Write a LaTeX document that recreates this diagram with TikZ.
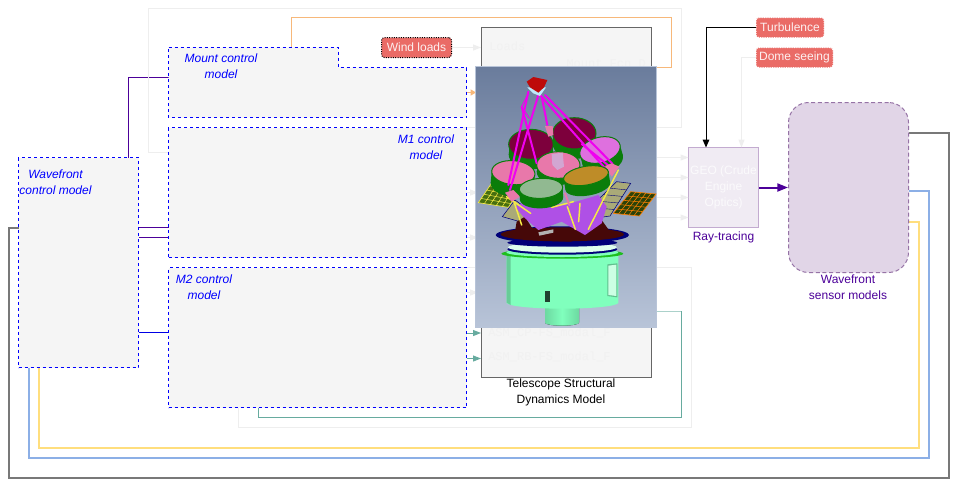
\documentclass[tikz,border=0pt]{standalone}
\usepackage{fontspec}
\setmainfont{Liberation Sans}
\newfontfamily\ghostmono{Liberation Mono}
\usetikzlibrary{arrows.meta, positioning, calc, shapes.geometric}
\definecolor{ctrlblue}{RGB}{0, 0, 255}
\definecolor{ctrlfill}{RGB}{245, 245, 245}
\definecolor{wfspurple}{RGB}{76, 0, 153}
\definecolor{wfsfill}{RGB}{225, 213, 231}
\definecolor{wfsdraw}{RGB}{150, 115, 166}
\definecolor{rayfill}{RGB}{240, 235, 243}
\definecolor{raydraw}{RGB}{195, 171, 208}
\definecolor{loadred}{RGB}{234, 107, 102}
\definecolor{ghost}{RGB}{238, 238, 238}
\definecolor{ghostink}{RGB}{241, 241, 241}
\definecolor{mountorange}{RGB}{247, 184, 122}
\definecolor{asmteal}{RGB}{103, 171, 159}
\definecolor{loopgray}{RGB}{120, 120, 120}
\definecolor{loopblue}{RGB}{140, 175, 230}
\definecolor{loopyellow}{RGB}{255, 222, 125}
\definecolor{skytop}{RGB}{106, 124, 156}
\definecolor{skybot}{RGB}{184, 196, 216}
\definecolor{mint}{RGB}{128, 255, 189}
\definecolor{segmaroon}{RGB}{125, 0, 60}
\definecolor{seggreen}{RGB}{10, 125, 10}
\definecolor{segpink}{RGB}{232, 120, 170}
\definecolor{seglilac}{RGB}{222, 112, 222}
\definecolor{seggold}{RGB}{190, 140, 40}
\definecolor{segsage}{RGB}{145, 185, 145}
\definecolor{trussmag}{RGB}{240, 0, 240}
\definecolor{strutyellow}{RGB}{245, 235, 70}
\definecolor{deckpurple}{RGB}{175, 80, 230}
\definecolor{deckred}{RGB}{70, 8, 8}
\definecolor{ringnavy}{RGB}{0, 0, 120}
\definecolor{ringgreen}{RGB}{30, 190, 30}
\definecolor{panelgreen}{RGB}{70, 110, 15}
\definecolor{paneltan}{RGB}{170, 170, 120}
\definecolor{capred}{RGB}{190, 10, 10}
\tikzset{
    ctrlbox/.style={
        rectangle, draw=ctrlblue, fill=ctrlfill, dash pattern=on 2.25pt off 2.25pt,
        line width=0.75pt, inner sep=0pt
    },
    ctrllabel/.style={font=\itshape\fontsize{9}{12}\selectfont, text=ctrlblue, align=center},
    loadbox/.style={
        rectangle, rounded corners=2.2pt, fill=loadred, draw=#1, densely dotted, line width=0.75pt,
        text=white!90!loadred, font=\fontsize{9}{12}\selectfont, minimum height=15pt, inner sep=0pt
    },
    caption/.style={font=\fontsize{9}{12}\selectfont, align=center},
    purplecaption/.style={caption, text=wfspurple},
    ghosttext/.style={font=\ghostmono\fontsize{9}{12}\selectfont, text=ghostink, inner sep=0pt},
    frameline/.style={draw=ghost, line width=0.75pt},
    ghostarrow/.style={-{Triangle[length=6pt,width=4.5pt]}, draw=ghost, line width=0.75pt},
    wire/.style={line width=0.75pt},
    loopline/.style={line width=1.5pt},
    tealarrow/.style={-{Triangle[length=6pt,width=4.5pt]}, asmteal, line width=0.75pt},
    truss/.style={draw=trussmag, line width=1.5pt, line cap=round},
    strut/.style={draw=strutyellow, line width=1.1pt, line cap=round},
}
\begin{document}
\begin{tikzpicture}[x=0.75pt,y=-0.75pt]
    \useasboundingbox (0,0) rectangle (957,487);
    \fill[white] (0,0) rectangle (957,487);

    % ports
    \coordinate (waveT) at (128.5,157.5);
    \coordinate (waveA) at (138.5,227.5);
    \coordinate (waveB) at (138.5,237.5);
    \coordinate (waveC) at (138.5,332.5);
    \coordinate (waveG) at (18.5,227.5);
    \coordinate (waveU) at (28.5,367.5);
    \coordinate (waveY) at (38.5,367.5);
    \coordinate (mountL) at (168.5,77.5);
    \coordinate (mountT) at (291.5,47.5);
    \coordinate (mountR) at (467,92.5);
    \coordinate (m1A) at (168.5,227.5);
    \coordinate (m1B) at (168.5,237.5);
    \coordinate (m2L) at (168.5,332.5);
    \coordinate (m2B) at (258.5,407.5);
    \coordinate (wfsG) at (908.5,132.5);
    \coordinate (wfsU) at (908.5,190.5);
    \coordinate (wfsY) at (908.5,221.5);

    % long feedback lines
    \draw[loopline, loopgray] (wfsG) -| (948.5,477.5) -| (8.5,227.5) -- (waveG);
    \draw[loopline, loopblue] (wfsU) -| (928.5,457.5) -| (waveU);
    \draw[loopline, loopyellow] (wfsY) -| (918.5,447.5) -| (waveY);
    \draw[wire, wfspurple] (waveT) |- (mountL);
    \draw[wire, wfspurple] (waveA) -- (m1A);
    \draw[wire, wfspurple] (waveB) -- (m1B);
    \draw[wire, ctrlblue!90!black] (waveC) -- (m2L);

    % frames
    \draw[frameline] (148.5,152.5) -- (148.5,8.5) -- (681.5,8.5) -- (681.5,127.5) -- (460,127.5);
    \draw[frameline] (168.5,152.5) -- (148.5,152.5);
    \draw[frameline] (238.5,405) -- (238.5,427.5) -- (691.5,427.5) -- (691.5,267.5) -- (460,267.5);

    % structural model
    \node[draw=black!60, fill=ctrlfill, line width=0.75pt, minimum width=127.5pt, minimum height=262.5pt, inner sep=0pt] (tsdm) at (566,202.5) {};
    \node[ghosttext, anchor=west] (loads) at (489,46) {Loads};
    \node[ghosttext, anchor=east] (mountfcn) at (646,64) {Mount\_Fcn\_D};
    \node[ghosttext, anchor=west] (asmcp) at (488,333) {ASM\_CP-FS\_modal\_F};
    \node[ghosttext, anchor=west] (asmrb) at (488,357) {ASM\_RB-FS\_modal\_F};
    \node[caption] (tsdmlabel) at (561,392) {Telescope Structural\\Dynamics Model};
    \draw[mountorange, line width=0.75pt] (mountT) |- (671.5,17.5) |- (650,67.5);

    % control boxes
    \draw[ctrlbox] (168.5,47.5) -- (338.5,47.5) -- (338.5,67.5) -- (466.5,67.5) -- (466.5,117.5) -- (168.5,117.5) -- cycle;
    \node[ctrllabel] (mountlabel) at (221,66) {Mount control\\model};
    \node[ctrlbox, minimum width=223.5pt, minimum height=97.5pt] (m1) at (317.5,192.5) {};
    \node[ctrllabel] (m1label) at (426,147) {M1 control\\model};
    \node[ctrlbox, minimum width=223.5pt, minimum height=105pt] (m2) at (317.5,337.5) {};
    \node[ctrllabel] (m2label) at (204,287) {M2 control\\model};
    \node[ctrlbox, minimum width=90pt, minimum height=157.5pt] (wave) at (78.5,262.5) {};
    \node[ctrllabel] (wavelabel) at (55.5,182) {Wavefront\\control model};

    % arrows into the structural model
    \node[loadbox=black, minimum width=52.5pt] (wind) at (416.5,47.5) {Wind loads};
    \draw[ghostarrow] (wind) -- (481,47.5);
    \draw[-{Triangle[length=4pt,width=4.5pt]}, mountorange, line width=0.75pt] (mountR) -- (476,92.5);
    \foreach \ypos in {192.5,237.5,292.5}
        \draw[ghostarrow] (467,\ypos) -- (478,\ypos);
    \draw[tealarrow] (467,333) -- (481,333);
    \draw[tealarrow] (467,358.5) -- (481,358.5);

    % telescope picture
    \begin{scope}[shift={(470,0)},x=0.25pt,y=-0.25pt]
        \fill[top color=skytop, bottom color=skybot] (15,198) rectangle (560,982);
        \draw[skybot, line width=0.5pt] (15,198) rectangle (560,982);
        % solar panels
        \fill[panelgreen, draw=strutyellow, line width=0.5pt] (25,608) -- (68,545) -- (150,565) -- (115,622) -- cycle;
        \foreach \t in {0.2,0.4,0.6,0.8} {
            \draw[strutyellow, line width=0.4pt] ($(25,608)!\t!(68,545)$) -- ($(115,622)!\t!(150,565)$);
            \draw[strutyellow, line width=0.4pt] ($(25,608)!\t!(115,622)$) -- ($(68,545)!\t!(150,565)$);
        }
        \fill[panelgreen!60!black, draw=orange, line width=0.5pt] (430,640) -- (482,575) -- (558,582) -- (508,648) -- cycle;
        \foreach \t in {0.2,0.4,0.6,0.8} {
            \draw[orange, line width=0.4pt] ($(430,640)!\t!(482,575)$) -- ($(508,648)!\t!(558,582)$);
            \draw[orange, line width=0.4pt] ($(430,640)!\t!(508,648)$) -- ($(482,575)!\t!(558,582)$);
        }
        \fill[paneltan, draw=ringnavy, line width=0.4pt] (97,650) -- (135,600) -- (190,640) -- (150,665) -- cycle;
        \fill[paneltan, draw=ringnavy, line width=0.4pt] (340,642) -- (440,545) -- (482,550) -- (420,648) -- (370,655) -- cycle;
        \foreach \t in {0.2,0.4,0.6,0.8}
            \draw[ringnavy, line width=0.3pt] ($(340,642)!\t!(440,545)$) -- ($(420,648)!\t!(482,550)$);
        % cylinder
        \fill[left color=mint!85!black, right color=mint!85!black, middle color=mint] (225,900) -- (327,900) -- (327,968) arc[start angle=0, end angle=180, x radius=51, y radius=9] -- cycle;
        \fill[mint] (110,760) -- (445,760) -- (445,908) arc[start angle=0, end angle=180, x radius=167.5, y radius=18] -- cycle;
        \fill[mint!80!black] (110,760) -- (122,760) -- (122,915) -- (110,908) -- cycle;
        \fill[mint!75!black] (412,793) -- (442,790) -- (442,892) -- (412,888) -- cycle;
        \fill[mint!40!white] (415,797) -- (439,794) -- (439,888) -- (415,885) -- cycle;
        \fill[mint!25!black] (225,872) rectangle (241,905);
        % rings
        \fill[ringgreen] (277,761) ellipse [x radius=183, y radius=15];
        \fill[mint] (277,757) ellipse [x radius=168, y radius=14];
        \fill[ringnavy] (277,748) ellipse [x radius=165, y radius=16];
        \fill[mint!25!white] (277,742) ellipse [x radius=163, y radius=16];
        \fill[ringnavy] (277,728) ellipse [x radius=165, y radius=12];
        \fill[ringnavy] (277,705) ellipse [x radius=200, y radius=26];
        \fill[deckred] (277,703) ellipse [x radius=185, y radius=21];
        % deck
        \fill[deckred] (135,695) -- (140,665) -- (165,650) -- (190,690) -- (300,695) -- (345,700) -- (395,660) -- (420,695) -- (300,725) -- (170,720) -- cycle;
        \fill[deckpurple] (135,620) -- (175,600) -- (285,615) -- (385,585) -- (410,620) -- (395,670) -- (345,705) -- (310,685) -- (275,665) -- (205,690) -- (160,650) -- cycle;
        \fill[gray!60!white] (205,697) -- (250,688) -- (250,698) -- (208,707) -- cycle;
        \draw[strut] (132,605) -- (155,675);
        \draw[strut] (110,590) -- (182,640);
        \draw[strut] (292,620) -- (316,688);
        \draw[strut] (245,622) -- (310,605);
        \draw[strut] (445,510) -- (355,688);
        \draw[strut] (330,610) -- (326,665);
        % segments
        \foreach \cx/\cy/\rx/\ry/\tilt/\segcol/\depth in {183/433/67/45/0/segmaroon/30, 313/400/65/47/0/segmaroon/30, 390/450/62/38/15/seglilac/32, 130/518/65/36/-5/segpink/36, 265/495/65/40/0/segpink/20} {
            \begin{scope}[rotate around={\tilt:(\cx,\cy)}]
                \fill[seggreen] (\cx-\rx,\cy) rectangle (\cx+\rx,\cy+\depth);
                \fill[seggreen] (\cx,\cy+\depth) ellipse [x radius=\rx, y radius=\ry];
                \fill[\segcol, draw=seggreen, line width=0.75pt] (\cx,\cy) ellipse [x radius=\rx, y radius=\ry];
            \end{scope}
        }
        \fill[violet!35!white] (245,462) -- (278,458) -- (282,500) -- (262,510) -- (247,495) -- cycle;
        \fill[segpink] (225,378) -- (248,378) -- (250,405) -- (235,410) -- cycle;
        % trusses
        \draw[truss] (205,285) -- (120,570);
        \draw[truss] (175,275) -- (115,555);
        \draw[truss] (155,320) -- (200,490);
        \draw[truss] (225,285) -- (428,492);
        \draw[truss] (210,285) -- (410,510);
        \draw[truss] (335,432) -- (420,500);
        \draw[truss] (215,290) -- (232,375);
        \draw[truss, line width=0.75pt] (175,280) -- (155,320) -- (178,355);
        \fill[segpink] (105,578) -- (130,570) -- (150,590) -- (125,605) -- cycle;
        \fill[segpink] (405,498) -- (425,490) -- (448,500) -- (425,530) -- cycle;
        % front segments
        \foreach \cx/\cy/\rx/\ry/\tilt/\segcol/\depth in {213/565/65/30/3/segsage/30, 348/527/68/28/10/seggold/32} {
            \begin{scope}[rotate around={\tilt:(\cx,\cy)}]
                \fill[seggreen] (\cx-\rx,\cy) rectangle (\cx+\rx,\cy+\depth);
                \fill[seggreen] (\cx,\cy+\depth) ellipse [x radius=\rx, y radius=\ry];
                \fill[\segcol, draw=seggreen, line width=0.75pt] (\cx,\cy) ellipse [x radius=\rx, y radius=\ry];
            \end{scope}
        }
        \draw[truss, segpink] (285,580) -- (298,615);
        % top end
        \fill[cyan!25!white] (172,262) -- (228,262) -- (210,288) -- (190,280) -- cycle;
        \fill[capred] (170,245) -- (190,231) -- (232,240) -- (222,262) -- (205,278) -- (180,262) -- cycle;
    \end{scope}
    \draw[asmteal!55!white, line width=0.75pt] (657,311) -- (681.5,311);
    \draw[asmteal, line width=0.75pt] (m2B) |- (681.5,417.5) -- (681.5,311);

    % ray tracing and sensors
    \node[loadbox=white, minimum width=51pt] (turb) at (790,27.5) {Turbulence};
    \node[loadbox=white, minimum width=57.75pt] (dome) at (794.5,57.5) {Dome seeing};
    \node[draw=raydraw, fill=rayfill, line width=0.75pt, minimum width=52.5pt, minimum height=60pt, inner sep=0pt, text=white!75!rayfill, font=\fontsize{9}{12}\selectfont, align=center] (ray) at (723.5,187.5) {GEO (Crude\\Engine\\Optics)};
    \node[purplecaption] (raylabel) at (723.5,237) {Ray-tracing};
    \node[rectangle, rounded corners=15pt, draw=wfsdraw, fill=wfsfill, densely dashed, line width=0.75pt, minimum width=90pt, minimum height=127.5pt, inner sep=0pt] (wfs) at (848.5,187.5) {};
    \node[purplecaption] (wfslabel) at (848,287) {Wavefront\\sensor models};
    \foreach \ypos in {157.5,177.5,197.5,217.5}
        \draw[ghostarrow] (657,\ypos) -- (688.5,\ypos);
    \draw[-{Triangle[length=6pt,width=5pt]}, black, line width=0.75pt] (turb.west) -| (706,147.5);
    \draw[ghostarrow] (dome.west) -| (741.5,147.5);
    \draw[-{Triangle[length=8pt,width=6pt]}, wfspurple, line width=1.5pt] (ray.east) -- (wfs.west);
\end{tikzpicture}
\end{document}
